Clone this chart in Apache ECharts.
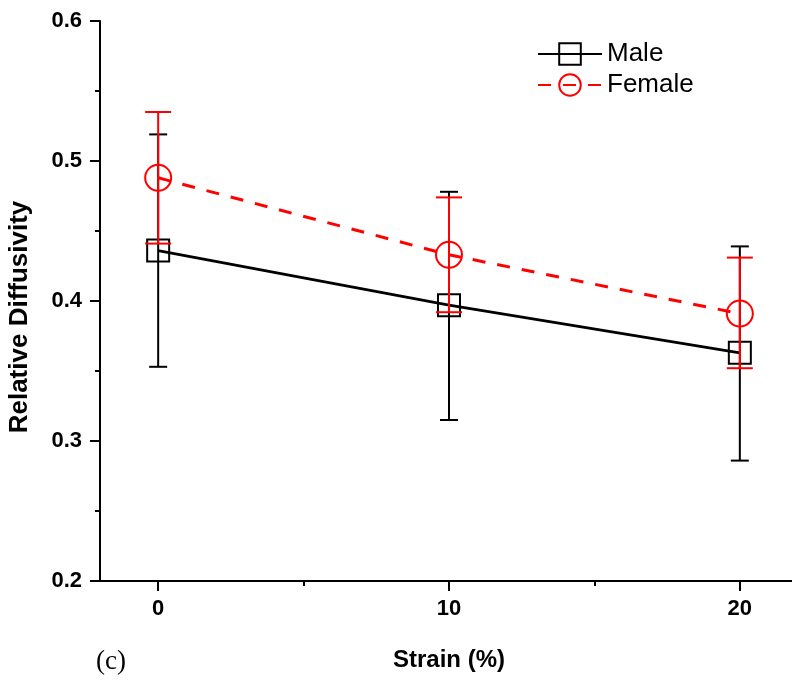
<!DOCTYPE html>
<html>
<head>
<meta charset="utf-8">
<script src="https://cdn.jsdelivr.net/npm/echarts@6/dist/echarts.min.js"></script>
<style>html,body{margin:0;padding:0;background:#fff}#c{width:792px;height:688px}</style>
</head>
<body>
<div id="c"></div>
<script>
const strain = [0, 10, 20];
const maleMean = [0.436, 0.397, 0.363];
const maleUpper = [0.519, 0.478, 0.439];
const maleLower = [0.353, 0.315, 0.286];
const femaleMean = [0.488, 0.433, 0.391];
const femaleUpper = [0.535, 0.474, 0.431];
const femaleLower = [0.441, 0.392, 0.352];
const xTicks = [0, 10, 20];
const xMinorTicks = [5, 15];

const FONT = "'Liberation Sans', Arial, sans-serif";
const chart = echarts.init(document.getElementById('c'), null, {renderer: 'canvas'});

function errData(lo, hi) { return strain.map((x, i) => [x, lo[i], hi[i]]); }
function errRender(color, half, width) {
  return function (params, api) {
    const x = api.value(0);
    const lo = api.coord([x, api.value(1)]);
    const hi = api.coord([x, api.value(2)]);
    const st = {stroke: color, lineWidth: width};
    return {type: 'group', children: [
      {type: 'line', shape: {x1: lo[0], y1: lo[1], x2: hi[0], y2: hi[1]}, style: st},
      {type: 'line', shape: {x1: lo[0] - half, y1: lo[1], x2: lo[0] + half, y2: lo[1]}, style: st},
      {type: 'line', shape: {x1: hi[0] - half, y1: hi[1], x2: hi[0] + half, y2: hi[1]}, style: st}
    ]};
  };
}

chart.setOption({
  animation: false,
  backgroundColor: '#fff',
  grid: {left: 100, top: 21, width: 698, height: 560, containLabel: false, outerBoundsMode: 'none'},
  legend: {
    data: ['Male', 'Female'], left: 537, top: 41, orient: 'vertical', padding: 0,
    itemWidth: 64, itemHeight: 27, itemGap: 5,
    textStyle: {fontFamily: FONT, fontSize: 26, color: '#000'}
  },
  xAxis: [{
    type: 'value', min: -2, max: 22,
    name: 'Strain (%)', nameLocation: 'middle', nameGap: 67,
    nameTextStyle: {fontFamily: FONT, fontSize: 24, fontWeight: 'bold', color: '#000'},
    axisLine: {show: true, onZero: false, lineStyle: {color: '#000', width: 2}},
    axisTick: {show: true, inside: false, length: 10, customValues: xTicks, lineStyle: {color: '#000', width: 2}},
    axisLabel: {customValues: xTicks, margin: 17, fontFamily: FONT, fontSize: 22, fontWeight: 'bold', color: '#000'},
    splitLine: {show: false}
  }, {
    type: 'value', min: -2, max: 22, position: 'bottom', gridIndex: 0,
    axisLine: {show: false},
    axisTick: {show: true, inside: false, length: 5, customValues: xMinorTicks, lineStyle: {color: '#000', width: 2}},
    axisLabel: {show: false},
    splitLine: {show: false}
  }],
  yAxis: {
    type: 'value', min: 0.2, max: 0.6, interval: 0.1,
    name: 'Relative Diffusivity', nameLocation: 'middle', nameGap: 67,
    nameTextStyle: {fontFamily: FONT, fontSize: 26, fontWeight: 'bold', color: '#000', padding: [0, 32, 0, 0]},
    axisLine: {show: true, onZero: false, lineStyle: {color: '#000', width: 2}},
    axisTick: {show: true, inside: false, length: 10, lineStyle: {color: '#000', width: 2}},
    minorTick: {show: true, splitNumber: 2, length: 5, lineStyle: {color: '#000', width: 2}},
    axisLabel: {margin: 18, formatter: v => v.toFixed(1), fontFamily: FONT, fontSize: 22, fontWeight: 'bold', color: '#000'},
    splitLine: {show: false}, minorSplitLine: {show: false}
  },
  graphic: [{
    type: 'text', left: 96, top: 648,
    style: {text: '(c)', font: "27px 'Liberation Serif', 'Times New Roman', serif", fill: '#000'}
  }],
  series: [
    {
      type: 'custom', name: 'maleErr', z: 2, data: errData(maleLower, maleUpper),
      renderItem: errRender('#000', 9, 2), encode: {x: 0, y: [1, 2]}, silent: true
    },
    {
      type: 'line', name: 'Male', z: 3, data: strain.map((x, i) => [x, maleMean[i]]),
      symbol: 'rect', symbolSize: 22,
      itemStyle: {color: 'rgba(0,0,0,0)', borderColor: '#000', borderWidth: 2},
      lineStyle: {color: '#000', width: 2.8, type: 'solid'}
    },
    {
      type: 'custom', name: 'femaleErr', z: 4, data: errData(femaleLower, femaleUpper),
      renderItem: errRender('#ff0000', 13, 2), encode: {x: 0, y: [1, 2]}, silent: true
    },
    {
      type: 'line', name: 'Female', z: 5, data: strain.map((x, i) => [x, femaleMean[i]]),
      symbol: 'circle', symbolSize: 26,
      itemStyle: {color: 'rgba(0,0,0,0)', borderColor: '#ff0000', borderWidth: 2},
      lineStyle: {color: '#ff0000', width: 3, type: [13, 12]}
    }
  ]
});
</script>
</body>
</html>
